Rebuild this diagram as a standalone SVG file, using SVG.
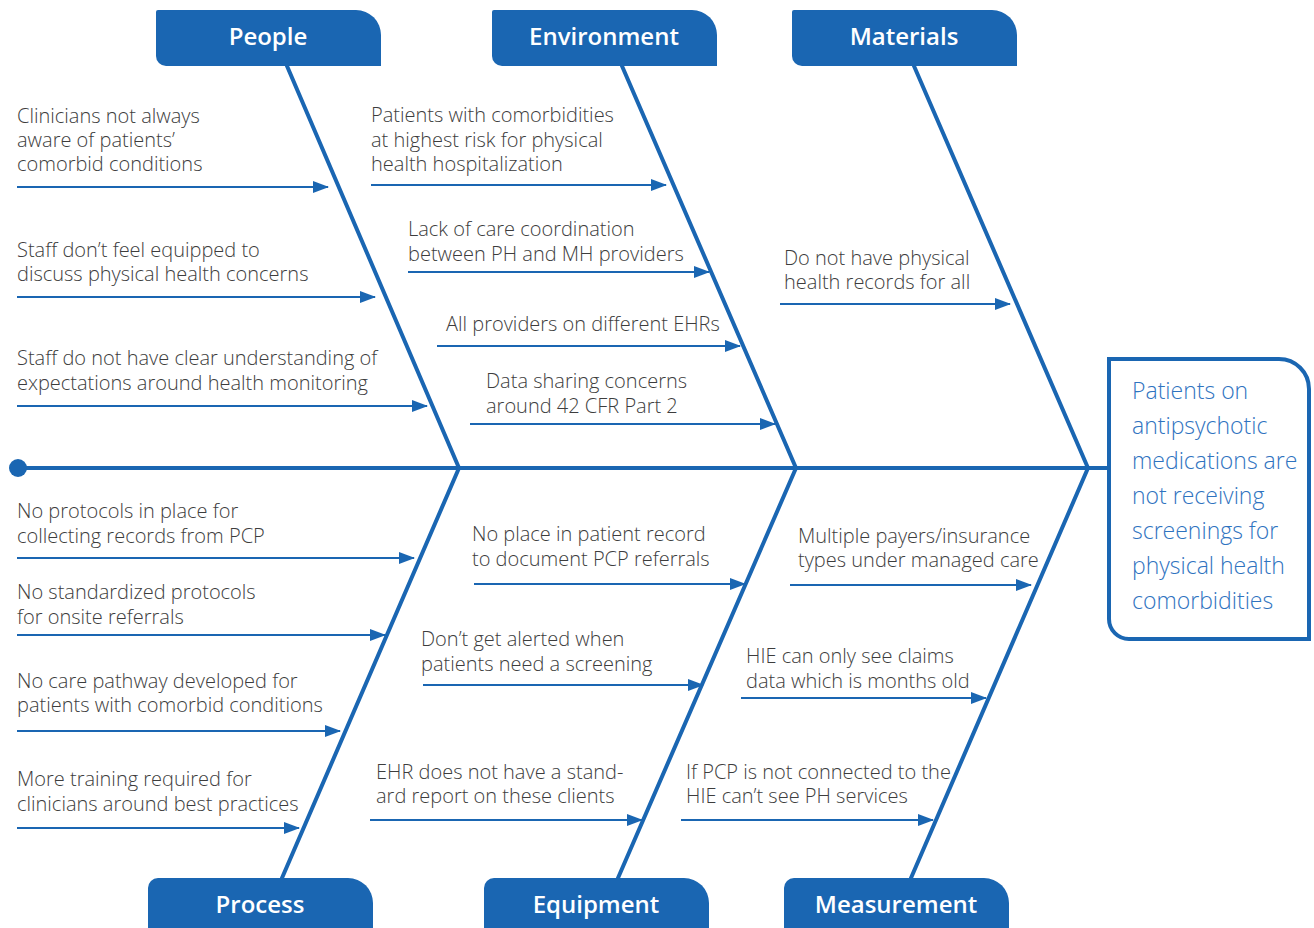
<svg xmlns="http://www.w3.org/2000/svg" width="1314" height="928" viewBox="0 0 1314 928">
<style>
.tab{fill:#1a66b2}
.tabt{font-family:"Open Sans","Liberation Sans",sans-serif;font-size:24px;font-weight:600;fill:#fff;text-anchor:middle}
.bone{stroke:#1a66b2;stroke-width:4;fill:none;stroke-linecap:round}
.arr{stroke:#1a66b2;stroke-width:2;fill:none;marker-end:url(#ah)}
.lbl{font-family:"Open Sans","Liberation Sans",sans-serif;font-size:20px;font-weight:300;fill:#3d3d3d}
.eff{font-family:"Open Sans","Liberation Sans",sans-serif;font-size:23px;font-weight:300;fill:#2f73bf}
</style>
<defs>
<marker id="ah" markerWidth="16" markerHeight="12" refX="15" refY="6" orient="auto" markerUnits="userSpaceOnUse">
<path d="M0,0 L16,6 L0,12 Z" fill="#1a66b2"/>
</marker>
</defs>
<rect width="1314" height="928" fill="#fff"/>
<g id="connectors">
<line class="bone" x1="18" y1="468" x2="1107" y2="468"/>
<circle cx="18" cy="468" r="9" fill="#1a66b2"/>
<line class="bone" x1="287" y1="66" x2="459" y2="468"/>
<line class="bone" x1="622" y1="66" x2="796" y2="468"/>
<line class="bone" x1="914" y1="66" x2="1088" y2="468"/>
<line class="bone" x1="459" y1="468" x2="282" y2="878"/>
<line class="bone" x1="796" y1="468" x2="618" y2="878"/>
<line class="bone" x1="1088" y1="468" x2="911" y2="878"/>
<line class="arr" x1="17" y1="187" x2="328" y2="187"/>
<line class="arr" x1="17" y1="297" x2="375" y2="297"/>
<line class="arr" x1="17" y1="406" x2="427" y2="406"/>
<line class="arr" x1="371" y1="185" x2="666" y2="185"/>
<line class="arr" x1="408" y1="272" x2="709" y2="272"/>
<line class="arr" x1="437" y1="346" x2="740" y2="346"/>
<line class="arr" x1="470" y1="424" x2="775" y2="424"/>
<line class="arr" x1="780" y1="304" x2="1010" y2="304"/>
<line class="arr" x1="17" y1="558" x2="414" y2="558"/>
<line class="arr" x1="17" y1="635" x2="385" y2="635"/>
<line class="arr" x1="17" y1="731" x2="340" y2="731"/>
<line class="arr" x1="17" y1="828" x2="299" y2="828"/>
<line class="arr" x1="474" y1="584" x2="745" y2="584"/>
<line class="arr" x1="423" y1="685" x2="703" y2="685"/>
<line class="arr" x1="370" y1="820" x2="642" y2="820"/>
<line class="arr" x1="790" y1="585" x2="1031" y2="585"/>
<line class="arr" x1="741" y1="698" x2="986" y2="698"/>
<line class="arr" x1="681" y1="820" x2="933" y2="820"/>
</g>
<g id="people">
<path class="tab" d="M158,10 H356 A25,25 0 0 1 381,35 V66 H166 A10,10 0 0 1 156,56 V12 A2,2 0 0 1 158,10 Z"/>
<text class="tabt" x="268" y="45">People</text>
</g>
<g id="environment">
<path class="tab" d="M494,10 H692 A25,25 0 0 1 717,35 V66 H502 A10,10 0 0 1 492,56 V12 A2,2 0 0 1 494,10 Z"/>
<text class="tabt" x="604" y="45">Environment</text>
</g>
<g id="materials">
<path class="tab" d="M794,10 H992 A25,25 0 0 1 1017,35 V66 H802 A10,10 0 0 1 792,56 V12 A2,2 0 0 1 794,10 Z"/>
<text class="tabt" x="904" y="45">Materials</text>
</g>
<g id="process">
<path class="tab" d="M148,888 A10,10 0 0 1 158,878 H348 A25,25 0 0 1 373,903 V928 H148 Z"/>
<text class="tabt" x="260" y="913">Process</text>
</g>
<g id="equipment">
<path class="tab" d="M484,888 A10,10 0 0 1 494,878 H684 A25,25 0 0 1 709,903 V928 H484 Z"/>
<text class="tabt" x="596" y="913">Equipment</text>
</g>
<g id="measurement">
<path class="tab" d="M784,888 A10,10 0 0 1 794,878 H984 A25,25 0 0 1 1009,903 V928 H784 Z"/>
<text class="tabt" x="896" y="913">Measurement</text>
</g>
<g id="effect">
<path d="M1109,359 H1279 A30,30 0 0 1 1309,389 V639 H1129 A20,20 0 0 1 1109,619 Z" fill="#fff" stroke="#1a66b2" stroke-width="4"/>
<text class="eff" x="1132" y="399">Patients on</text>
<text class="eff" x="1132" y="434">antipsychotic</text>
<text class="eff" x="1132" y="469">medications are</text>
<text class="eff" x="1132" y="504">not receiving</text>
<text class="eff" x="1132" y="539">screenings for</text>
<text class="eff" x="1132" y="574">physical health</text>
<text class="eff" x="1132" y="609">comorbidities</text>
</g>
<g id="labels-people">
<text class="lbl" x="17" y="123">Clinicians not always</text>
<text class="lbl" x="17" y="147">aware of patients’</text>
<text class="lbl" x="17" y="171">comorbid conditions</text>
<text class="lbl" x="17" y="257">Staff don’t feel equipped to</text>
<text class="lbl" x="17" y="281">discuss physical health concerns</text>
<text class="lbl" x="17" y="365">Staff do not have clear understanding of</text>
<text class="lbl" x="17" y="390">expectations around health monitoring</text>
</g>
<g id="labels-environment">
<text class="lbl" x="371" y="122">Patients with comorbidities</text>
<text class="lbl" x="371" y="147">at highest risk for physical</text>
<text class="lbl" x="371" y="171">health hospitalization</text>
<text class="lbl" x="408" y="236">Lack of care coordination</text>
<text class="lbl" x="408" y="261">between PH and MH providers</text>
<text class="lbl" x="446" y="331">All providers on different EHRs</text>
<text class="lbl" x="486" y="388">Data sharing concerns</text>
<text class="lbl" x="486" y="413">around 42 CFR Part 2</text>
</g>
<g id="labels-materials">
<text class="lbl" x="784" y="265">Do not have physical</text>
<text class="lbl" x="784" y="289">health records for all</text>
</g>
<g id="labels-process">
<text class="lbl" x="17" y="518">No protocols in place for</text>
<text class="lbl" x="17" y="543">collecting records from PCP</text>
<text class="lbl" x="17" y="599">No standardized protocols</text>
<text class="lbl" x="17" y="624">for onsite referrals</text>
<text class="lbl" x="17" y="688">No care pathway developed for</text>
<text class="lbl" x="17" y="712">patients with comorbid conditions</text>
<text class="lbl" x="17" y="786">More training required for</text>
<text class="lbl" x="17" y="811">clinicians around best practices</text>
</g>
<g id="labels-equipment">
<text class="lbl" x="472" y="541">No place in patient record</text>
<text class="lbl" x="472" y="566">to document PCP referrals</text>
<text class="lbl" x="421" y="646">Don’t get alerted when</text>
<text class="lbl" x="421" y="671">patients need a screening</text>
<text class="lbl" x="376" y="779">EHR does not have a stand-</text>
<text class="lbl" x="376" y="803">ard report on these clients</text>
</g>
<g id="labels-measurement">
<text class="lbl" x="798" y="543">Multiple payers/insurance</text>
<text class="lbl" x="798" y="567">types under managed care</text>
<text class="lbl" x="746" y="663">HIE can only see claims</text>
<text class="lbl" x="746" y="688">data which is months old</text>
<text class="lbl" x="686" y="779">If PCP is not connected to the</text>
<text class="lbl" x="686" y="803">HIE can’t see PH services</text>
</g>
</svg>
